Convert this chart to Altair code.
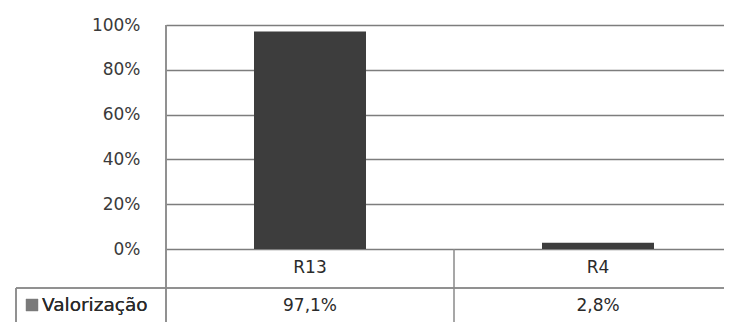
import altair as alt
import pandas as pd

categories = ["R13", "R4"]
values = [0.971, 0.028]
series_name = "Valorização"
y_ticks = [0, 0.2, 0.4, 0.6, 0.8, 1.0]

labels = [f"{v * 100:.1f}%".replace(".", ",") for v in values]
df = pd.DataFrame({"cat": categories, "value": values, "label": labels})

FONT = "DejaVu Sans"
W, H = 558, 224
x_scale = alt.Scale(domain=categories, range=[0, 576], paddingInner=0, paddingOuter=0)

base = alt.Chart(df)

bars = base.mark_bar(size=112, color="#3d3d3d").encode(
    x=alt.X("cat:N", scale=x_scale, axis=None, sort=categories),
    y=alt.Y(
        "value:Q",
        scale=alt.Scale(domain=[0, 1], nice=False),
        axis=alt.Axis(
            values=y_ticks,
            format=".0%",
            title=None,
            ticks=False,
            domain=False,
            grid=True,
            gridColor="#7d7d7d",
            gridWidth=1.5,
            labelFont=FONT,
            labelFontSize=17,
            labelColor="#3a3a3a",
            labelPadding=26,
        ),
    ),
)

cat_text = base.mark_text(font=FONT, fontSize=17, color="#2a2a2a", baseline="middle").encode(
    x=alt.X("cat:N", scale=x_scale, sort=categories),
    y=alt.value(243),
    text="cat:N",
)

val_text = base.mark_text(font=FONT, fontSize=17, color="#2a2a2a", baseline="middle").encode(
    x=alt.X("cat:N", scale=x_scale, sort=categories),
    y=alt.value(281),
    text="label:N",
)

sep_df = pd.DataFrame({"cat": [categories[1]]})
col_sep = alt.Chart(sep_df).mark_rule(color="#8a8a8a", strokeWidth=1.5).encode(
    x=alt.X("cat:N", scale=x_scale, bandPosition=0, sort=categories),
    y=alt.value(H),
    y2=alt.value(300),
)

axis_line = base.mark_rule(color="#8a8a8a", strokeWidth=1.5).encode(
    x=alt.value(0), y=alt.value(0), y2=alt.value(300)
)
row_line = base.mark_rule(color="#8a8a8a", strokeWidth=1.5).encode(
    x=alt.value(-150), x2=alt.value(W), y=alt.value(263)
)
box_left = base.mark_rule(color="#8a8a8a", strokeWidth=1.5).encode(
    x=alt.value(-150), y=alt.value(263), y2=alt.value(300)
)
legend_sq = base.mark_square(size=150, color="#7a7a7a", opacity=1).encode(
    x=alt.value(-134), y=alt.value(280)
)
legend_txt = base.mark_text(
    font=FONT, fontSize=18.5, color="#2a2a2a", align="left", baseline="middle"
).encode(x=alt.value(-124), y=alt.value(280), text=alt.value(series_name))

chart = (
    alt.layer(bars, cat_text, val_text, col_sep, axis_line, row_line, box_left, legend_sq, legend_txt)
    .properties(
        width=W,
        height=H,
        padding={"left": 158, "top": 17, "right": 0, "bottom": 73},
        autosize=alt.AutoSizeParams(type="none"),
        background="white",
    )
    .configure_view(stroke=None)
)

chart.save("out.html", embed_options={"renderer": "svg", "actions": False})
